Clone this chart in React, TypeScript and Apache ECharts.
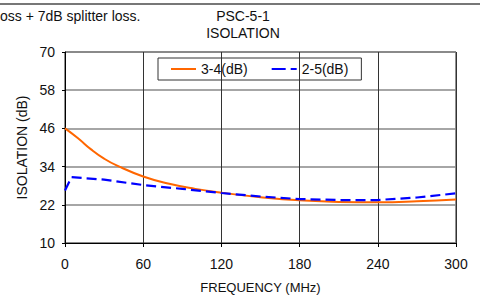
import React, { useEffect, useRef } from "react";
import * as echarts from "echarts";

const freq34 = [0, 10, 20, 30, 40, 60, 80, 100, 120, 150, 180, 210, 240, 270, 300];
const iso34 = [46, 42.9, 39.4, 36.5, 34.3, 30.9, 28.6, 27.0, 25.8, 24.4, 23.4, 22.9, 22.8, 23.1, 23.7];

const freq25 = [0, 5, 30, 60, 90, 120, 150, 180, 210, 240, 270, 300];
const iso25 = [26.5, 30.7, 29.9, 28.2, 27.0, 25.7, 24.6, 23.8, 23.5, 23.5, 24.3, 25.6];

const xTicks = [0, 60, 120, 180, 240, 300];
const yMin = 10;
const yMax = 70;
const yStep = 12;

const seriesNames = ["3-4(dB)", "2-5(dB)"];

export default function App() {
  const ref = useRef<HTMLDivElement>(null);
  useEffect(() => {
    document.body.style.margin = "0";
    const chart = echarts.init(ref.current!, null, { renderer: "svg" });
    const font = "'Liberation Sans', Arial, sans-serif";
    chart.setOption({
      animation: false,
      backgroundColor: "#fff",
      textStyle: { fontFamily: font },
      graphic: [
        { type: "line", shape: { x1: 0, y1: 4, x2: 480, y2: 4 }, style: { stroke: "#777", lineWidth: 2 } },
        { type: "text", x: 0, y: 9, style: { text: "oss + 7dB splitter loss.", font: `14px ${font}`, fill: "#111" } },
        { type: "text", x: 243, y: 9, style: { text: "PSC-5-1", font: `14px ${font}`, fill: "#111", textAlign: "center" } },
        { type: "text", x: 243, y: 26, style: { text: "ISOLATION", font: `14px ${font}`, fill: "#111", textAlign: "center" } },
      ],
      grid: { left: 65, right: 24, top: 52, bottom: 56, show: true, borderColor: "#222", borderWidth: 1 },
      legend: {
        left: 158,
        top: 58,
        padding: [4, 13, 4, 13],
        borderColor: "#333",
        borderWidth: 1,
        itemWidth: 25,
        itemHeight: 2,
        itemGap: 24,
        symbolKeepAspect: false,
        textStyle: { fontSize: 14, color: "#111", fontFamily: font, lineHeight: 14 },
        data: [
          { name: seriesNames[0], icon: "rect", itemStyle: { color: "#FF6600" } },
          { name: seriesNames[1], icon: "path://M0,0h14v2h-14z M19,0h6v2h-6z", itemStyle: { color: "#0000FF" } },
        ],
      },
      xAxis: {
        type: "value",
        min: xTicks[0],
        max: xTicks[xTicks.length - 1],
        interval: xTicks[1] - xTicks[0],
        name: "FREQUENCY (MHz)",
        nameLocation: "middle",
        nameGap: 38,
        nameTextStyle: { fontSize: 13, color: "#111", fontFamily: font },
        axisLine: { lineStyle: { color: "#000", width: 1 } },
        axisTick: { show: true, length: 4, lineStyle: { color: "#000" } },
        axisLabel: { fontSize: 14, color: "#111", margin: 14, fontFamily: font },
        splitLine: { show: true, lineStyle: { color: "#333", width: 1 } },
      },
      yAxis: {
        type: "value",
        min: 0,
        max: yMax - yMin,
        interval: yStep,
        name: "ISOLATION (dB)",
        nameLocation: "middle",
        nameGap: 24,
        nameTextStyle: { fontSize: 14, color: "#111", fontFamily: font },
        axisLine: { show: true, lineStyle: { color: "#000", width: 1 } },
        axisTick: { show: true, length: 3, lineStyle: { color: "#000" } },
        axisLabel: { fontSize: 14, color: "#111", margin: 10, fontFamily: font, formatter: (v: number) => String(v + yMin) },
        splitLine: { show: true, lineStyle: { color: "#888", width: 1.5 } },
      },
      series: [
        {
          name: seriesNames[0],
          type: "line",
          smooth: 0.5,
          showSymbol: false,
          symbol: "none",
          color: "#FF6600",
          lineStyle: { color: "#FF6600", width: 2 },
          data: freq34.map((f, i) => [f, iso34[i] - yMin]),
          z: 3,
        },
        {
          name: seriesNames[1],
          type: "line",
          smooth: false,
          showSymbol: false,
          symbol: "none",
          color: "#0000FF",
          lineStyle: { color: "#0000FF", width: 2.2, type: [10, 5] },
          data: freq25.map((f, i) => [f, iso25[i] - yMin]),
          z: 4,
        },
      ],
    });
    return () => chart.dispose();
  }, []);
  return <div ref={ref} style={{ width: 480, height: 299, position: "absolute", left: 0, top: 0 }} />;
}
